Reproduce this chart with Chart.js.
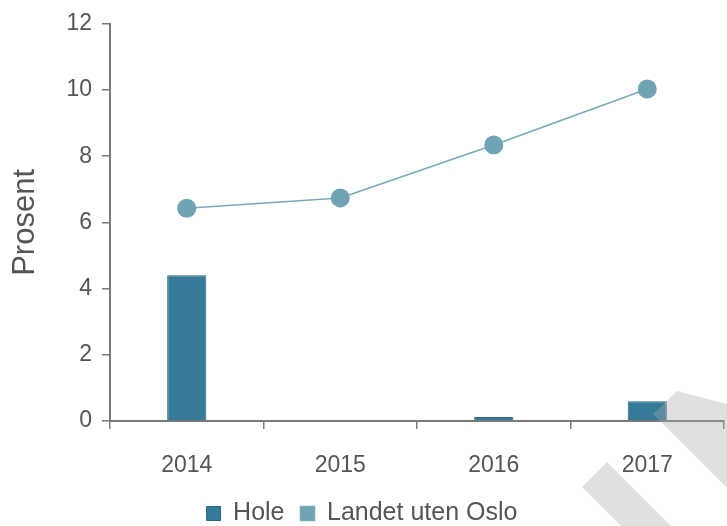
<!DOCTYPE html>
<html>
<head>
<meta charset="utf-8">
<script src="https://cdn.jsdelivr.net/npm/chart.js@4/dist/chart.umd.min.js"></script>
<style>
  html, body { margin: 0; padding: 0; background: #fff; }
  #wrap { width: 727px; height: 526px; }
</style>
</head>
<body>
<div id="wrap"><canvas id="chart"></canvas></div>
<script>
// Chart data
const years = ['2014', '2015', '2016', '2017'];
const holeValues = [4.4, 0, 0.12, 0.6];
const landetValues = [6.43, 6.74, 8.34, 10.03];
const yTicks = [0, 2, 4, 6, 8, 10, 12];

const textColor = '#555555';
const axisColor = '#7a7a7a';

// Grey diagonal watermark bands over the bottom right corner
const watermark = {
    id: 'watermark',
    afterDraw(chart) {
        const ctx = chart.ctx;
        ctx.save();
        ctx.fillStyle = 'rgba(170,170,170,0.36)';
        ctx.beginPath();
        ctx.moveTo(653, 414);
        ctx.lineTo(677, 391);
        ctx.lineTo(727, 404);
        ctx.lineTo(727, 488);
        ctx.closePath();
        ctx.fill();
        ctx.beginPath();
        ctx.moveTo(582, 487);
        ctx.lineTo(607, 462);
        ctx.lineTo(671, 526);
        ctx.lineTo(621, 526);
        ctx.closePath();
        ctx.fill();
        ctx.restore();
    }
};

Chart.defaults.font.family = '"Liberation Sans", Arial, sans-serif';
Chart.defaults.color = textColor;

new Chart(document.getElementById('chart'), {
    type: 'bar',
    data: {
        labels: years,
        datasets: [
            {
                type: 'line',
                label: 'Landet uten Oslo',
                data: landetValues,
                borderColor: '#78a9b9',
                backgroundColor: '#70a3b4',
                borderWidth: 1.5,
                pointRadius: 9.5,
                pointBackgroundColor: '#70a3b4',
                pointBorderWidth: 0,
                order: 1
            },
            {
                label: 'Hole',
                data: holeValues,
                backgroundColor: '#357a99',
                borderColor: '#2c6681',
                borderWidth: 1,
                barPercentage: 1,
                categoryPercentage: 0.255,
                order: 2
            }
        ]
    },
    options: {
        responsive: true,
        maintainAspectRatio: false,
        animation: false,
        layout: {
            autoPadding: false,
            padding: { left: 0, right: 3, top: 10, bottom: -10 }
        },
        plugins: {
            tooltip: { enabled: false },
            legend: {
                position: 'bottom',
                reverse: true,
                labels: {
                    boxWidth: 14,
                    boxHeight: 14,
                    padding: 16,
                    color: textColor,
                    font: { size: 25 }
                }
            }
        },
        scales: {
            x: {
                grid: {
                    display: true,
                    drawOnChartArea: false,
                    drawTicks: true,
                    tickLength: 8,
                    color: axisColor,
                    lineWidth: 1.5
                },
                border: { display: true, color: axisColor, width: 2 },
                ticks: { color: textColor, font: { size: 23 }, padding: 23 },
                afterFit(scale) { scale.height = 64; }
            },
            y: {
                min: 0,
                max: 12,
                afterBuildTicks(scale) {
                    scale.ticks = yTicks.map(v => ({ value: v }));
                },
                grid: {
                    display: true,
                    drawOnChartArea: false,
                    drawTicks: true,
                    tickLength: 8,
                    color: axisColor,
                    lineWidth: 1.5
                },
                border: { display: true, color: axisColor, width: 2 },
                ticks: { color: textColor, font: { size: 23 }, padding: 10 },
                title: {
                    display: true,
                    text: 'Prosent',
                    color: textColor,
                    font: { size: 31 },
                    padding: { top: 7, bottom: 0 }
                },
                afterFit(scale) { scale.width = 110; }
            }
        }
    },
    plugins: [watermark]
});
</script>
</body>
</html>
